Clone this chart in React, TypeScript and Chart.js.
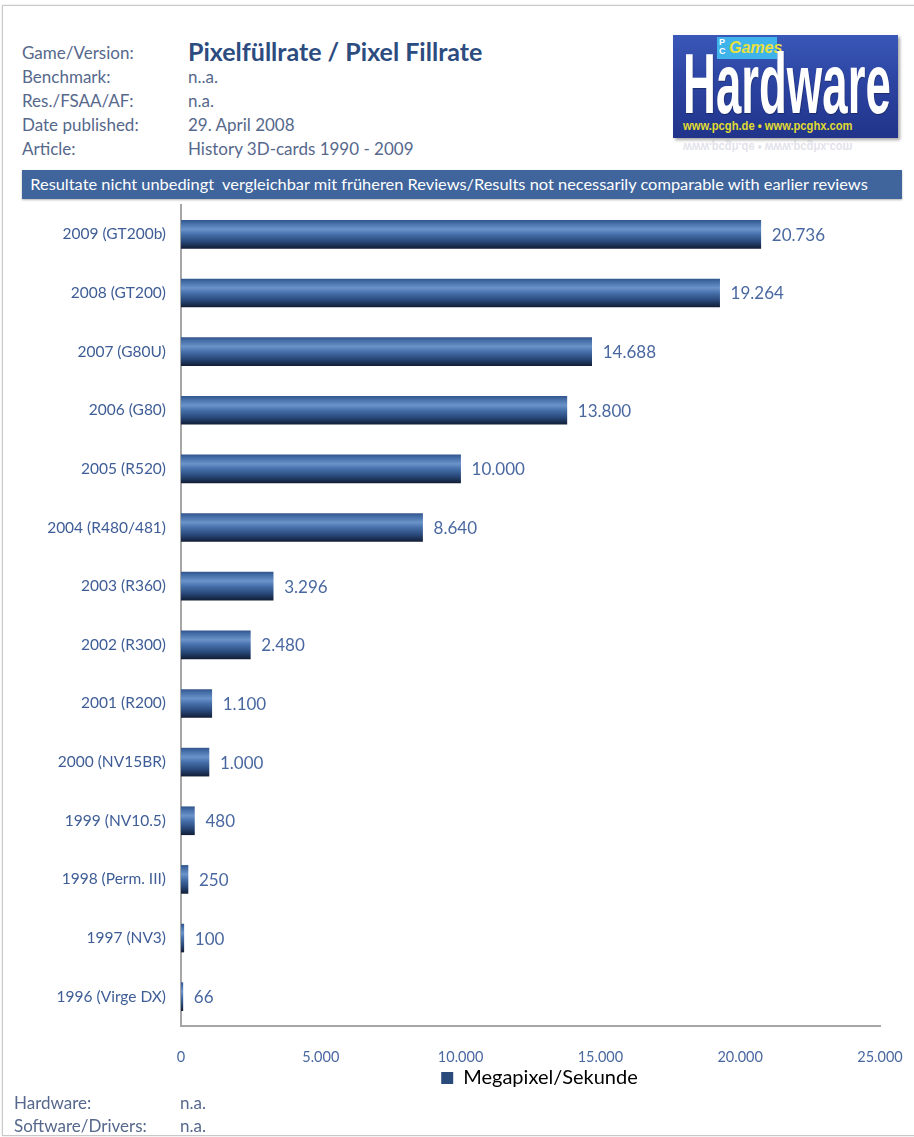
import React, { useEffect, useRef } from "react";
import { Chart, registerables } from "chart.js";

Chart.register(...registerables);

const categories = [
  "2009 (GT200b)",
  "2008 (GT200)",
  "2007 (G80U)",
  "2006 (G80)",
  "2005 (R520)",
  "2004 (R480/481)",
  "2003 (R360)",
  "2002 (R300)",
  "2001 (R200)",
  "2000 (NV15BR)",
  "1999 (NV10.5)",
  "1998 (Perm. III)",
  "1997 (NV3)",
  "1996 (Virge DX)",
];
const values = [20736, 19264, 14688, 13800, 10000, 8640, 3296, 2480, 1100, 1000, 480, 250, 100, 66];
const xTickValues = [0, 5000, 10000, 15000, 20000, 25000];
const seriesName = "Megapixel/Sekunde";
const titleText = "Pixelfüllrate / Pixel Fillrate";
const headerLabels = ["Game/Version:", "Benchmark:", "Res./FSAA/AF:", "Date published:", "Article:"];
const headerValues = ["", "n..a.", "n.a.", "29. April 2008", "History 3D-cards 1990 - 2009"];
const footerLabels = ["Hardware:", "Software/Drivers:"];
const footerValues = ["n.a.", "n.a."];
const bannerText =
  "Resultate nicht unbedingt  vergleichbar mit früheren Reviews/Results not necessarily comparable with earlier reviews";

const FONT = "Lato, 'Open Sans', sans-serif";
const BAR_T = 28;

function fmt(n: number): string {
  return String(n).replace(/\B(?=(\d{3})+(?!\d))/g, ".");
}

const valueLabelPlugin = {
  id: "valueLabels",
  afterDatasetsDraw(chart: any) {
    const ctx = chart.ctx;
    const meta = chart.getDatasetMeta(0);
    ctx.save();
    ctx.font = `17px ${FONT}`;
    ctx.fillStyle = "#4a68a0";
    ctx.textAlign = "left";
    ctx.textBaseline = "middle";
    meta.data.forEach((el: any, i: number) => {
      ctx.fillText(fmt(values[i]), el.x + 11, el.y + 1);
    });
    ctx.restore();
  },
};

const legendShiftPlugin = {
  id: "legendShift",
  afterLayout(chart: any) {
    const l = chart.legend;
    if (l) {
      l.left += 9;
      l.right += 9;
    }
  },
};

function ChartCanvas() {
  const ref = useRef<HTMLCanvasElement | null>(null);
  useEffect(() => {
    if (!ref.current) return;
    const chart = new Chart(ref.current, {
      type: "bar",
      data: {
        labels: categories,
        datasets: [
          {
            label: seriesName,
            data: values,
            barThickness: BAR_T,
            borderWidth: 0,
            backgroundColor: (c: any) => {
              const ch = c.chart;
              const ys = ch.scales && ch.scales.y;
              if (c.type !== "data" || !ys) return "#2e4f82";
              const yc = ys.getPixelForValue(c.dataIndex);
              const h = BAR_T / 2;
              const g = ch.ctx.createLinearGradient(0, yc - h, 0, yc + h);
              g.addColorStop(0, "#33578e");
              g.addColorStop(0.12, "#4770aa");
              g.addColorStop(0.32, "#6a93c9");
              g.addColorStop(0.5, "#4670aa");
              g.addColorStop(0.75, "#2a4a7c");
              g.addColorStop(1, "#121f38");
              return g;
            },
          },
        ],
      },
      options: {
        indexAxis: "y",
        responsive: false,
        animation: false,
        devicePixelRatio: 1,
        layout: { padding: { top: 205, left: 0, right: 34, bottom: 39 } },
        plugins: {
          legend: {
            position: "bottom",
            fullSize: false,
            labels: {
              padding: 0,
              boxWidth: 12,
              boxHeight: 12,
              color: "#4a68a0",
              font: { family: FONT, size: 20 },
              generateLabels: () => [
                {
                  text: seriesName,
                  fillStyle: "#2a4a7c",
                  strokeStyle: "#2a4a7c",
                  lineWidth: 0,
                  hidden: false,
                  datasetIndex: 0,
                },
              ],
            },
          },
          tooltip: { enabled: false },
        },
        scales: {
          x: {
            type: "linear",
            min: 0,
            max: 25000,
            afterBuildTicks: (s: any) => {
              s.ticks = xTickValues.map((v) => ({ value: v }));
            },
            afterFit: (s: any) => {
              s.height = 42;
              s.paddingLeft = 0;
              s.paddingRight = 0;
            },
            grid: { display: false, drawTicks: false },
            border: { display: true, color: "#a6a6a6", width: 2 },
            ticks: {
              padding: 23,
              color: "#4a68a0",
              font: { family: FONT, size: 14.5 },
              callback: (v: any) => fmt(Number(v)),
            },
          },
          y: {
            type: "category",
            afterFit: (s: any) => {
              s.width = 181;
            },
            grid: { display: false, drawTicks: false },
            border: { display: true, color: "#a6a6a6", width: 2 },
            ticks: {
              padding: 15,
              color: "#3e5d96",
              font: { family: FONT, size: 15.5 },
            },
          },
        },
      } as any,
      plugins: [valueLabelPlugin, legendShiftPlugin],
    });
    return () => chart.destroy();
  }, []);
  return (
    <canvas
      ref={ref}
      width={914}
      height={1137}
      style={{ position: "absolute", left: 0, top: 0, width: 914, height: 1137 }}
    />
  );
}

function Logo() {
  return (
    <div style={{ position: "absolute", left: 673, top: 35, width: 226, height: 130 }}>
      <div
        style={{
          position: "absolute",
          left: 0,
          top: 0,
          width: 225,
          height: 103,
          background: "linear-gradient(180deg,#3a58b8 0%,#2c44a2 45%,#21348a 100%)",
          boxShadow: "2px 2px 3px rgba(0,0,0,0.35)",
          overflow: "hidden",
        }}
      >
        <div style={{ position: "absolute", left: 44, top: 2, width: 60, height: 22, background: "#3fb4ec" }} />
        <div
          style={{
            position: "absolute",
            left: 46,
            top: 3,
            fontFamily: "'Liberation Sans', sans-serif",
            fontWeight: 700,
            fontSize: 9,
            color: "#ffffff",
            lineHeight: "9px",
            width: 8,
            wordBreak: "break-all",
          }}
        >
          PC
        </div>
        <div
          style={{
            position: "absolute",
            left: 56,
            top: 5,
            fontFamily: "'Liberation Sans', sans-serif",
            fontStyle: "italic",
            fontWeight: 700,
            fontSize: 16,
            color: "#e8e040",
            lineHeight: "16px",
          }}
        >
          Games
        </div>
        <div
          style={{
            position: "absolute",
            left: 10,
            top: 5,
            fontFamily: "'Liberation Sans', sans-serif",
            fontWeight: 700,
            fontSize: 86,
            lineHeight: "86px",
            color: "#ffffff",
            whiteSpace: "nowrap",
            transform: "scaleX(0.53)",
            transformOrigin: "left top",
            textShadow: "1px 1px 1px rgba(0,0,0,0.3)",
          }}
        >
          Hardware
        </div>
        <div
          style={{
            position: "absolute",
            left: 10,
            top: 84,
            fontFamily: "'Liberation Sans', sans-serif",
            fontWeight: 700,
            fontSize: 13,
            lineHeight: "13px",
            color: "#e0dc30",
            whiteSpace: "nowrap",
            transform: "scaleX(0.86)",
            transformOrigin: "left top",
          }}
        >
          www.pcgh.de • www.pcghx.com
        </div>
      </div>
      <div
        style={{
          position: "absolute",
          left: 10,
          top: 106,
          fontFamily: "'Liberation Sans', sans-serif",
          fontWeight: 700,
          fontSize: 13,
          lineHeight: "13px",
          color: "#9090b0",
          opacity: 0.25,
          whiteSpace: "nowrap",
          transform: "scaleX(0.86) scaleY(-1)",
          transformOrigin: "left center",
        }}
      >
        www.pcgh.de • www.pcghx.com
      </div>
    </div>
  );
}

export default function App() {
  const lblStyle: React.CSSProperties = {
    position: "absolute",
    fontFamily: FONT,
    fontSize: 17,
    color: "#56688c",
    whiteSpace: "nowrap",
    lineHeight: "18px",
  };
  return (
    <div
      style={{
        position: "absolute",
        left: 0,
        top: 0,
        width: 914,
        height: 1137,
        background: "#ffffff",
        overflow: "hidden",
      }}
    >
      <div
        style={{
          position: "absolute",
          left: 2,
          top: 5,
          width: 930,
          height: 1129,
          border: "1.5px solid #c8c8c8",
          boxShadow: "0 0 2px rgba(0,0,0,0.15)",
        }}
      />
      {headerLabels.map((t, i) => (
        <div key={"hl" + i} style={{ ...lblStyle, left: 22, top: 44 + i * 24 }}>
          {t}
        </div>
      ))}
      {headerValues.map((t, i) =>
        i === 0 ? null : (
          <div key={"hv" + i} style={{ ...lblStyle, left: 188, top: 44 + i * 24 }}>
            {t}
          </div>
        )
      )}
      <div
        style={{
          position: "absolute",
          left: 188,
          top: 36,
          fontFamily: FONT,
          fontWeight: 700,
          fontSize: 25,
          lineHeight: "30px",
          color: "#2c4c80",
          whiteSpace: "nowrap",
        }}
      >
        {titleText}
      </div>
      <Logo />
      <div
        style={{
          position: "absolute",
          left: 22,
          top: 170,
          width: 880,
          height: 29,
          background: "#3f659c",
          boxShadow: "0 1px 2px rgba(0,0,0,0.3)",
          overflow: "hidden",
        }}
      >
        <div
          style={{
            position: "absolute",
            left: 427,
            top: 0,
            color: "#ffffff",
            fontFamily: FONT,
            fontSize: 14.5,
            lineHeight: "29px",
            whiteSpace: "pre",
            transform: "translateX(-50%) scaleX(1.13)",
          }}
        >
          {bannerText}
        </div>
      </div>
      <ChartCanvas />
      {footerLabels.map((t, i) => (
        <div key={"fl" + i} style={{ ...lblStyle, left: 14, top: 1094 + i * 23 }}>
          {t}
        </div>
      ))}
      {footerValues.map((t, i) => (
        <div key={"fv" + i} style={{ ...lblStyle, left: 180, top: 1094 + i * 23 }}>
          {t}
        </div>
      ))}
    </div>
  );
}
